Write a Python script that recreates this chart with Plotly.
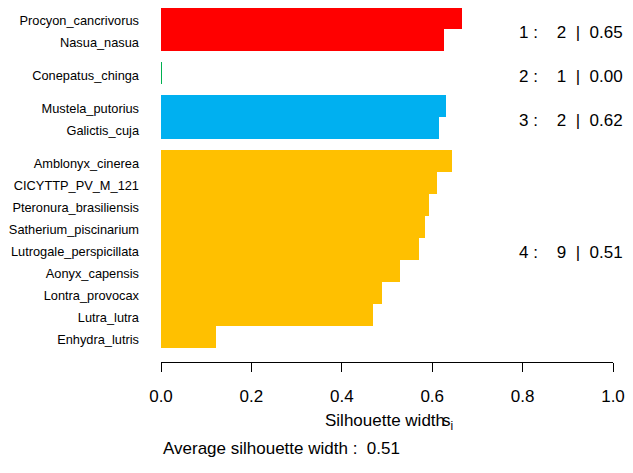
import plotly.graph_objects as go

# ---- data ----
species = ["Procyon_cancrivorus", "Nasua_nasua", "Conepatus_chinga",
           "Mustela_putorius", "Galictis_cuja", "Amblonyx_cinerea",
           "CICYTTP_PV_M_121", "Pteronura_brasiliensis", "Satherium_piscinarium",
           "Lutrogale_perspicillata", "Aonyx_capensis", "Lontra_provocax",
           "Lutra_lutra", "Enhydra_lutris"]
cluster = [1, 1, 2, 3, 3, 4, 4, 4, 4, 4, 4, 4, 4, 4]
sil_width = [0.667, 0.627, 0.0, 0.630, 0.615, 0.643, 0.610, 0.594, 0.585,
             0.571, 0.528, 0.490, 0.470, 0.122]
cluster_ids = [1, 2, 3, 4]
cluster_colors = {1: "#FF0000", 2: "#00B050", 3: "#00B0F0", 4: "#FFC000"}
x_ticks = [0.0, 0.2, 0.4, 0.6, 0.8, 1.0]
x_tick_labels = ["0.0", "0.2", "0.4", "0.6", "0.8", "1.0"]

# ---- layout geometry (page pixels; the page has an 8px body margin) ----
OFF = 8
W, H = 633 - OFF, 473 - 2 * OFF
L, R = 161, 613        # page x of value 0 and 1
TOP_BAR = 7            # page y of the top edge of the first bar
PT, PB = OFF, 362      # plot area top / bottom (x-axis line) in page y
unit_px = 22.0
gap = 0.5

# y positions (bar centers) in bar units, gaps between clusters
pos = []
cur = 0.0
prev = None
for c in cluster:
    if prev is not None and c != prev:
        cur += gap
    pos.append(cur + 0.5)
    cur += 1.0
    prev = c
y_top = (PT - TOP_BAR) / unit_px
y_bot = (PB - TOP_BAR) / unit_px

fig = go.Figure()
for k in cluster_ids:
    idx = [i for i, c in enumerate(cluster) if c == k]
    xs = [sil_width[i] for i in idx]
    ys = [pos[i] for i in idx]
    fig.add_trace(go.Bar(x=xs, y=ys, orientation="h", width=1.0, base=0,
                         marker=dict(color=cluster_colors[k], line=dict(width=0)),
                         showlegend=False, hoverinfo="skip"))
    # zero-width bars: draw as outline line
    for i in idx:
        if sil_width[i] == 0:
            fig.add_trace(go.Scatter(x=[sil_width[i], sil_width[i]],
                                     y=[pos[i] - 0.5, pos[i] + 0.5], mode="lines",
                                     line=dict(color=cluster_colors[k], width=2),
                                     cliponaxis=False, showlegend=False,
                                     hoverinfo="skip"))

def px_x(p):
    return (p - L) / (R - L)

def px_y(p):
    return (PB - p) / (PB - PT)

font = "Liberation Sans, Arial, sans-serif"
nb = "\u00a0"
ann = []
# cluster stats at the right
for k in cluster_ids:
    idx = [i for i, c in enumerate(cluster) if c == k]
    n = len(idx)
    avg = sum(sil_width[i] for i in idx) / n
    yc = (min(pos[i] for i in idx) + max(pos[i] for i in idx)) / 2
    txt = f"{k}{nb}:{nb*4}{n}{nb*2}|{nb*2}{avg:.2f}"
    ann.append(dict(x=px_x(624), xref="paper", y=yc, yref="y", text=txt,
                    xanchor="right", yanchor="middle", yshift=-3, showarrow=False,
                    borderpad=0,
                    font=dict(family=font, size=17, color="#000000")))

# x title with overlapping s_i (as in the reference)
ann.append(dict(x=px_x(384.7), xref="paper", y=px_y(420), yref="paper",
                text="Silhouette width", xanchor="center", yanchor="middle",
                showarrow=False, borderpad=0,
                font=dict(family=font, size=17, color="#000000")))
ann.append(dict(x=px_x(441), xref="paper", y=px_y(422), yref="paper",
                text="s<sub>i</sub>", xanchor="left", yanchor="middle",
                showarrow=False, borderpad=0,
                font=dict(family=font, size=17, color="#000000")))
overall = sum(sil_width) / len(sil_width)
ann.append(dict(x=px_x(162), xref="paper", y=px_y(448), yref="paper",
                text=f"Average silhouette width :{nb*2}{overall:.2f}",
                xanchor="left", yanchor="middle", showarrow=False, borderpad=0,
                font=dict(family=font, size=17, color="#000000")))

fig.update_layout(
    width=W, height=H,
    margin=dict(l=L - OFF, r=W - (R - OFF), t=PT - OFF, b=H - (PB - OFF), pad=0,
                autoexpand=False),
    plot_bgcolor="white", paper_bgcolor="white",
    bargap=0, barmode="overlay",
    annotations=ann,
    xaxis=dict(range=[0, 1], tickvals=x_ticks, ticktext=x_tick_labels,
               showgrid=False, zeroline=False, showline=True, linecolor="#000000",
               linewidth=1, ticks="outside", ticklen=9, tickcolor="#000000",
               tickwidth=1, ticklabelstandoff=10, automargin=False,
               tickfont=dict(family=font, size=17, color="#000000"),
               fixedrange=True),
    yaxis=dict(range=[y_bot, y_top], tickvals=pos, ticktext=species,
               showgrid=False, zeroline=False, showline=False, ticks="",
               ticklabelstandoff=21, ticklabelshift=-3, automargin=False,
               tickfont=dict(family=font, size=12.8, color="#000000"),
               fixedrange=True),
)

fig.write_html("out.html")
